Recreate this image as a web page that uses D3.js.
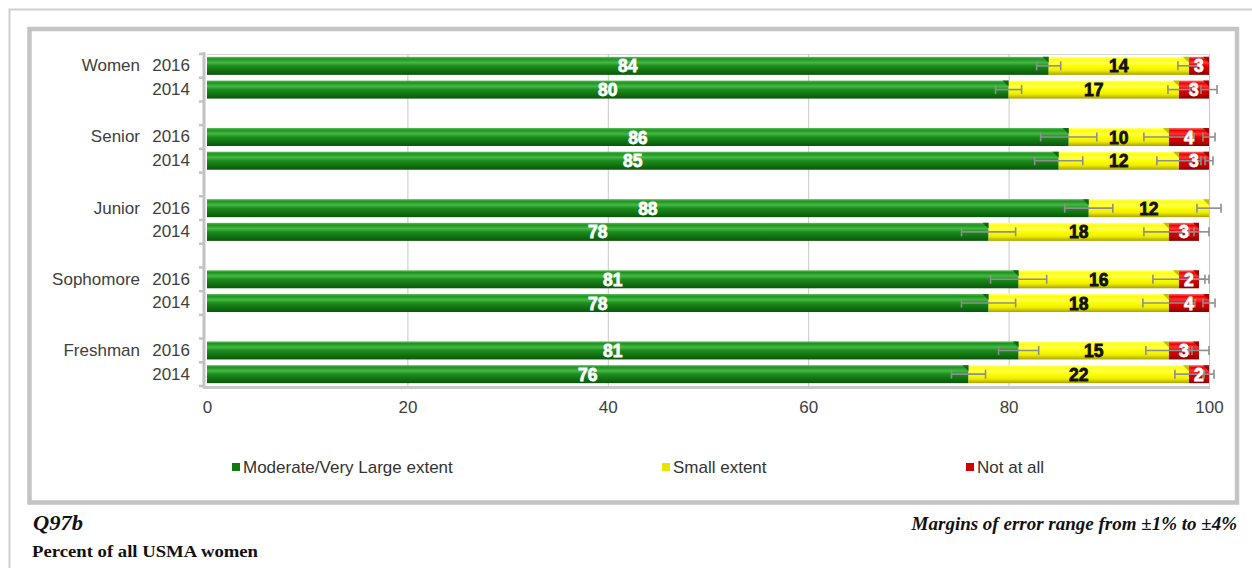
<!DOCTYPE html>
<html>
<head>
<meta charset="utf-8">
<script src="https://cdn.jsdelivr.net/npm/d3@7"></script>
<style>
  html, body { margin: 0; padding: 0; background: #ffffff; }
  svg { display: block; }
</style>
</head>
<body>
<svg id="chart" width="1252" height="568"></svg>
<script>
// ---------------- DATA ----------------
const groups = ["Women", "Senior", "Junior", "Sophomore", "Freshman"];
const years = ["2016", "2014"];
const seriesNames = ["Moderate/Very Large extent", "Small extent", "Not at all"];
// rows in order: Women 2016, Women 2014, Senior 2016, Senior 2014, ...
const moderate = [84, 80, 86, 85, 88, 78, 81, 78, 81, 76];
const smallExt = [14, 17, 10, 12, 12, 18, 16, 18, 15, 22];
const notAtAll = [3, 3, 4, 3, 0, 3, 2, 4, 3, 2];
// margins of error (percentage points) at each segment end
const errModerate = [1.2, 1.3, 2.8, 2.4, 2.4, 2.7, 2.8, 2.7, 2.0, 1.7];
const errSmall = [1.1, 1.1, 2.5, 2.2, 1.2, 2.5, 2.6, 2.6, 2.3, 1.4];
const errNot = [0, 0.8, 0.6, 0.4, 0, 1.0, 1.0, 0.6, 1.0, 0.5];
const xTicks = [0, 20, 40, 60, 80, 100];
const footLeft = "Q97b";
const footRight = "Margins of error range from \u00b11% to \u00b14%";
const footNote = "Percent of all USMA women";

// ---------------- BUILD ----------------
const svg = d3.select("#chart");
const SANS = "'Liberation Sans', Arial, sans-serif";
const SERIF = "'Liberation Serif', 'Times New Roman', serif";
const colors = ["green", "yellow", "red"];
const gradStops = {
  green: [[0, "#5cc05c"], [0.12, "#1f931f"], [0.32, "#45b845"], [0.5, "#1d8d1d"], [0.72, "#137613"], [1, "#0a560a"]],
  yellow: [[0, "#ffff90"], [0.14, "#ffff00"], [0.32, "#ffff55"], [0.5, "#ffff00"], [0.75, "#eeee00"], [1, "#aaa200"]],
  red: [[0, "#ff7070"], [0.14, "#ee0000"], [0.32, "#ff3535"], [0.5, "#e00000"], [0.75, "#c40000"], [1, "#8a0000"]]
};
const capColor = { green: "#0c5c0c", yellow: "#b8b000", red: "#900000" };
const legendFill = { green: "#137a13", yellow: "#e6e600", red: "#d00000" };
const defs = svg.append("defs");
colors.forEach(c => {
  const g = defs.append("linearGradient").attr("id", "g-" + c)
    .attr("x1", 0).attr("y1", 0).attr("x2", 0).attr("y2", 1);
  gradStops[c].forEach(s => g.append("stop").attr("offset", s[0]).attr("stop-color", s[1]));
});

// frames
svg.append("rect").attr("x", 9.5).attr("y", 9.5).attr("width", 1300).attr("height", 700)
  .attr("fill", "none").attr("stroke", "#cfcfcf").attr("stroke-width", 2);
svg.append("rect").attr("x", 29.5).attr("y", 29).attr("width", 1207.5).attr("height", 473.5)
  .attr("fill", "#ffffff").attr("stroke", "#c4c4c4").attr("stroke-width", 4.5);

// rows
const rows = moderate.map((m, i) => ({
  key: groups[Math.floor(i / 2)] + "-" + years[i % 2],
  group: groups[Math.floor(i / 2)],
  year: years[i % 2],
  vals: [m, smallExt[i], notAtAll[i]],
  errs: [errModerate[i], errSmall[i], errNot[i]]
}));
const slotKeys = [];
groups.forEach((g, gi) => {
  slotKeys.push(g + "-" + years[0], g + "-" + years[1]);
  if (gi < groups.length - 1) slotKeys.push("gap-" + gi);
});

const x = d3.scaleLinear().domain([0, 100]).range([207, 1209]).clamp(true);
const xFree = x.copy().clamp(false);
const y = d3.scaleBand().domain(slotKeys).range([54, 386]).paddingInner(0.24).paddingOuter(0.12);
const step = y.step();

// plot border & gridlines
const plotTop = y.range()[0], plotBot = y.range()[1];
svg.append("line").attr("x1", x(0)).attr("x2", x(100)).attr("y1", plotTop + 0.5).attr("y2", plotTop + 0.5)
  .attr("stroke", "#d4d4d4").attr("stroke-width", 1);
svg.append("g").selectAll("line").data(xTicks.filter(t => t > 0)).join("line")
  .attr("x1", d => x(d) + 0.5).attr("x2", d => x(d) + 0.5)
  .attr("y1", plotTop).attr("y2", plotBot)
  .attr("stroke", "#c8c8c8").attr("stroke-width", 1);

// left axis wall with notches
svg.append("line").attr("x1", x(0) - 3).attr("x2", x(0) - 3).attr("y1", plotTop - 2).attr("y2", plotBot + 2)
  .attr("stroke", "#c2c2c2").attr("stroke-width", 3);
const notchYs = d3.range(slotKeys.length + 1).map(i => plotTop + i * step);
svg.append("g").selectAll("line").data(notchYs).join("line")
  .attr("x1", x(0) - 8).attr("x2", x(0) - 3).attr("y1", d => d).attr("y2", d => d)
  .attr("stroke", "#c2c2c2").attr("stroke-width", 2.5);
// bottom wall
svg.append("line").attr("x1", x(0) - 4).attr("x2", x(100) + 1).attr("y1", plotBot + 1.5).attr("y2", plotBot + 1.5)
  .attr("stroke", "#c8c8c8").attr("stroke-width", 3);

// bars
const bw = y.bandwidth();
const segs = [];
rows.forEach(r => {
  let cum = 0;
  r.vals.forEach((v, si) => {
    segs.push({ row: r, si, v, x0: cum, x1: cum + v, err: r.errs[si] });
    cum += v;
  });
});
const segG = svg.append("g");
segG.selectAll("rect").data(segs.filter(s => s.v > 0)).join("rect")
  .attr("x", d => x(d.x0))
  .attr("y", d => y(d.row.key))
  .attr("width", d => Math.max(0, x(d.x1) - x(d.x0)))
  .attr("height", bw)
  .attr("fill", d => "url(#g-" + colors[d.si] + ")");
// 3D caps at segment right ends
segG.selectAll("path.cap").data(segs.filter(s => s.v > 0)).join("path").attr("class", "cap")
  .attr("d", d => {
    const xe = x(d.x1), yt = y(d.row.key);
    const w = Math.min(6, x(d.x1) - x(d.x0));
    return `M${xe - w},${yt}L${xe},${yt}L${xe},${yt + w}Z`;
  })
  .attr("fill", d => capColor[colors[d.si]]).attr("opacity", 0.85);
// error bars
const ebG = svg.append("g").attr("stroke", "#8e8e8e").attr("stroke-width", 1.6).attr("fill", "none");
segs.filter(s => s.err > 0).forEach(s => {
  const cy = y(s.row.key) + bw / 2;
  const xa = xFree(s.x1 - s.err), xb = xFree(s.x1 + s.err);
  ebG.append("line").attr("x1", xa).attr("x2", xb).attr("y1", cy).attr("y2", cy);
  ebG.append("line").attr("x1", xa).attr("x2", xa).attr("y1", cy - 4.5).attr("y2", cy + 4.5);
  ebG.append("line").attr("x1", xb).attr("x2", xb).attr("y1", cy - 4.5).attr("y2", cy + 4.5);
});
// value labels
const labColor = ["#ffffff", "#111111", "#ffffff"];
svg.append("g").selectAll("text").data(segs.filter(s => s.v > 0)).join("text")
  .attr("x", d => (x(d.x0) + x(d.x1)) / 2)
  .attr("y", d => y(d.row.key) + bw / 2 + 6.5)
  .attr("text-anchor", "middle")
  .attr("font-family", SANS)
  .attr("font-weight", "bold")
  .attr("font-size", 17.5)
  .attr("fill", d => labColor[d.si])
  .attr("stroke", d => labColor[d.si]).attr("stroke-width", 0.8)
  .text(d => d.v);

// x axis labels
const xAxis = d3.axisBottom(x).tickValues(xTicks).tickSize(0).tickPadding(14).tickFormat(d3.format("d"));
const xg = svg.append("g").attr("transform", `translate(0,${plotBot + 1})`).call(xAxis);
xg.select(".domain").remove();
xg.selectAll("text").attr("font-family", SANS).attr("font-size", 17).attr("fill", "#404040");

// y axis labels (years) + group names
const yAxis = d3.axisLeft(y).tickValues(rows.map(r => r.key)).tickSize(0).tickPadding(17)
  .tickFormat(k => k.split("-")[1]);
const yg = svg.append("g").attr("transform", `translate(${x(0)},0)`).call(yAxis);
yg.select(".domain").remove();
yg.selectAll("text").attr("font-family", SANS).attr("font-size", 17).attr("fill", "#404040");
svg.append("g").selectAll("text").data(rows.filter(r => r.year === years[0])).join("text")
  .attr("x", 140).attr("y", d => y(d.key) + bw / 2)
  .attr("dy", "0.32em").attr("text-anchor", "end")
  .attr("font-family", SANS).attr("font-size", 17).attr("fill", "#404040")
  .text(d => d.group);

// legend
const legX = [232, 662, 966];
const leg = svg.append("g").selectAll("g").data(seriesNames).join("g")
  .attr("transform", (d, i) => `translate(${legX[i]},463)`);
leg.append("rect").attr("width", 8).attr("height", 8)
  .attr("fill", (d, i) => legendFill[colors[i]]);
leg.append("text").attr("x", 11).attr("y", 10)
  .attr("font-family", SANS).attr("font-size", 17).attr("fill", "#333333")
  .text(d => d);

// footer
svg.append("text").attr("x", 33).attr("y", 530)
  .attr("font-family", SERIF)
  .attr("font-style", "italic").attr("font-weight", "bold").attr("font-size", 20)
  .attr("textLength", 50).attr("lengthAdjust", "spacingAndGlyphs")
  .attr("fill", "#111").text(footLeft);
svg.append("text").attr("x", 1237).attr("y", 530).attr("text-anchor", "end")
  .attr("font-family", SERIF)
  .attr("font-style", "italic").attr("font-weight", "bold").attr("font-size", 19)
  .attr("fill", "#111").text(footRight);
svg.append("text").attr("x", 32).attr("y", 557)
  .attr("font-family", SERIF)
  .attr("font-weight", "bold").attr("font-size", 17)
  .attr("textLength", 226).attr("lengthAdjust", "spacingAndGlyphs")
  .attr("fill", "#111").text(footNote);
</script>
</body>
</html>
